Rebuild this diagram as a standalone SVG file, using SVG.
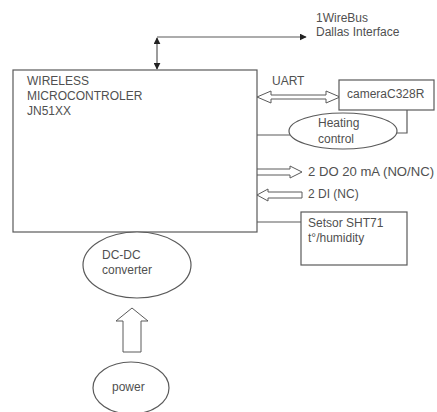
<svg xmlns="http://www.w3.org/2000/svg" width="437" height="412" viewBox="0 0 437 412">
<defs>
<style>
.s{fill:#fff;stroke:#5a5a5a;stroke-width:1.2}
.l{fill:none;stroke:#5a5a5a;stroke-width:1.2}
.h{fill:#fff;stroke:#5a5a5a;stroke-width:1}
text{font-family:"Liberation Sans",Arial,sans-serif;font-size:12px;fill:#505050}
</style>
<marker id="ah" viewBox="0 0 10 10" refX="9" refY="5" markerWidth="7" markerHeight="7" orient="auto-start-reverse" markerUnits="userSpaceOnUse">
<path d="M0,0 L10,5 L0,10 z" fill="#222"/>
</marker>
</defs>
<rect width="437" height="412" fill="#fff"/>
<g id="connectors">
<path class="l" d="M157,37 L306,37" marker-end="url(#ah)"/>
<path class="l" d="M157,38 L157,69" marker-start="url(#ah)" marker-end="url(#ah)"/>
<path class="h" d="M257,97 L271,91 L271,95 L326,95 L326,91 L340,97 L326,103 L326,99 L271,99 L271,103 z"/>
<path class="l" d="M257,135 L290,135"/>
<path class="l" d="M407,110 L407,133 L396,133"/>
<path class="h" d="M257,169 L290,169 L290,166 L302,172 L290,178 L290,175 L257,175"/>
<path class="h" d="M302,192 L268,192 L268,189 L257,195 L268,201 L268,198 L302,198 z"/>
<path class="l" d="M257,222 L301,222"/>
<path class="h" d="M132,308 L148,321 L141,321 L141,352 L123,352 L123,321 L116,321 z"/>
</g>
<g id="mcu">
<rect class="s" x="13" y="70" width="244" height="162"/>
<text x="27" y="85">WIRELESS</text>
<text x="27" y="100">MICROCONTROLER</text>
<text x="27" y="115">JN51XX</text>
</g>
<g id="camera">
<rect class="s" x="339" y="80" width="95" height="30"/>
<text x="347" y="98">cameraC328R</text>
</g>
<g id="heating">
<ellipse class="s" cx="343" cy="131" rx="54" ry="18"/>
<text x="318" y="127">Heating</text>
<text x="318" y="143">control</text>
</g>
<g id="sensor">
<rect class="s" x="301" y="212" width="106" height="53"/>
<text x="308" y="227">Setsor SHT71</text>
<text x="308" y="242">t°/humidity</text>
</g>
<g id="dcdc">
<ellipse class="s" cx="137" cy="265" rx="54" ry="33"/>
<text x="102" y="259">DC-DC</text>
<text x="102" y="274">converter</text>
</g>
<g id="power">
<ellipse class="s" cx="131" cy="388" rx="38" ry="26"/>
<text x="112" y="391">power</text>
</g>
<g id="labels">
<text x="316" y="22">1WireBus</text>
<text x="316" y="36">Dallas Interface</text>
<text x="272" y="85">UART</text>
<text x="308" y="176" textLength="126" lengthAdjust="spacingAndGlyphs">2 DO 20 mA (NO/NC)</text>
<text x="308" y="198">2 DI (NC)</text>
</g>
</svg>
